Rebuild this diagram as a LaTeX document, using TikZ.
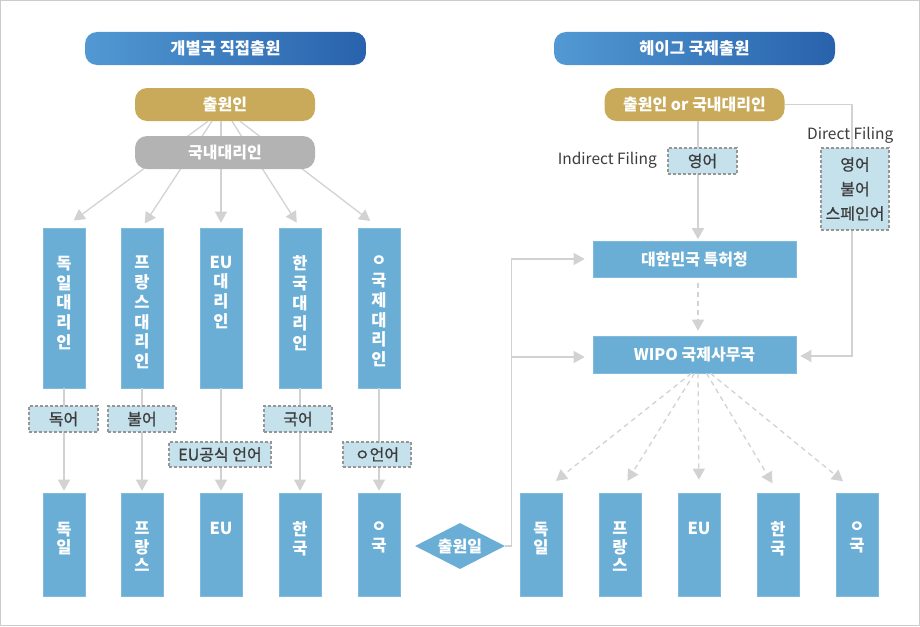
\documentclass[tikz,border=0pt]{standalone}
\usepackage{fontspec}
\setmainfont{Noto Sans CJK KR}
\newfontfamily\krmedium[FakeBold=0.8]{Noto Sans CJK KR}
\usetikzlibrary{arrows.meta,calc,shapes.geometric}
\definecolor{tl}{RGB}{82,153,211}
\definecolor{tr}{RGB}{40,98,172}
\definecolor{gold}{RGB}{200,170,90}
\definecolor{graybox}{RGB}{179,179,179}
\definecolor{boxblue}{RGB}{106,174,214}
\definecolor{lblfill}{RGB}{197,225,236}
\definecolor{lbldraw}{RGB}{150,150,150}
\definecolor{cline}{RGB}{210,210,210}
\definecolor{darktext}{RGB}{60,60,60}
\definecolor{frame}{RGB}{204,204,204}
\begin{document}
\begin{tikzpicture}[x=1pt,y=-1pt,
  wb/.style={text=white,font=\bfseries\fontsize{16}{20}\selectfont},
  title/.style={wb,rounded corners=12pt,left color=tl,right color=tr,minimum width=281pt,minimum height=33pt,inner sep=0pt,font=\bfseries\fontsize{16.5}{20}\selectfont},
  pill/.style={wb,rounded corners=12pt,minimum width=180pt,minimum height=33pt,inner sep=0pt},
  agent/.style={fill=boxblue,draw=boxblue!85!white,line width=0.6pt,minimum width=42pt,minimum height=160pt,inner sep=0pt},
  ctry/.style={agent,minimum height=103pt},
  office/.style={wb,fill=boxblue,draw=boxblue!85!white,line width=0.6pt,minimum width=203pt,minimum height=36pt,inner sep=0pt},
  vt/.style={wb,align=center,inner sep=0pt,anchor=north,font=\bfseries\fontsize{16.5}{19.8}\selectfont},
  vtc/.style={vt,font=\bfseries\fontsize{16.5}{18.5}\selectfont},
  lbl/.style={fill=lblfill,draw=lbldraw,line width=1.1pt,dash pattern=on 3pt off 2pt,minimum height=26pt,minimum width=68pt,inner sep=0pt,text=darktext,font=\krmedium\fontsize{16}{24.5}\selectfont,align=center},
  arr/.style={draw=cline,line width=1.3pt,-{Triangle[width=12pt,length=11pt]}},
  darr/.style={arr,dash pattern=on 5pt off 4pt},
  plain/.style={draw=cline,line width=1.3pt},
  note/.style={text=darktext,font=\fontsize{15.5}{18}\selectfont,inner sep=0pt}
]
\useasboundingbox (0,0) rectangle (920,626);
\draw[frame,line width=1pt] (0.5,0.5) rectangle (919.5,625.5);

% ---------- left ----------
\node[title] (t1) at (225.5,48.5) {개별국 직접출원};
\node[pill,fill=gold] (p1) at (225,104.5) {출원인};

\foreach \i/\x in {1/64,2/142,3/221,4/300,5/379}{
  \node[agent] (a\i) at (\x,308) {};
  \node[ctry] (c\i) at (\x,544.5) {};
}
\node[vt] (a1t) at ([yshift=-28pt]a1.north) {독\\일\\대\\리\\인};
\node[vt] (a2t) at ([yshift=-28pt]a2.north) {프\\랑\\스\\대\\리\\인};
\node[vt] (a3t) at ([yshift=-28pt]a3.north) {EU\\대\\리\\인};
\node[vt] (a4t) at ([yshift=-28pt]a4.north) {한\\국\\대\\리\\인};
\node[vt] (a5t) at ([yshift=-28pt]a5.north) {ㅇ\\국\\제\\대\\리\\인};
\node[vtc] (c1t) at ([yshift=-29pt]c1.north) {독\\일};
\node[vtc] (c2t) at ([yshift=-29pt]c2.north) {프\\랑\\스};
\node[vtc] (c3t) at ([yshift=-29pt]c3.north) {EU};
\node[vtc] (c4t) at ([yshift=-29pt]c4.north) {한\\국};
\node[vtc] (c5t) at ([yshift=-29pt]c5.north) {ㅇ\\국};

\draw[arr,shorten >=12pt] ([xshift=-17pt]p1.south) -- (a1.north);
\draw[arr,shorten >=5pt] ([xshift=-13pt]p1.south) -- (a2.north);
\draw[arr,shorten >=5pt] ([xshift=-4pt]p1.south) -- (a3.north);
\draw[arr,shorten >=6pt] ([xshift=7pt]p1.south) -- (a4.north);
\draw[arr,shorten >=11pt] ([xshift=15pt]p1.south) -- (a5.north);
\node[pill,fill=graybox] (p2) at (225,152.5) {국내대리인};

\foreach \i in {1,...,5}{
  \draw[arr,shorten >=2pt] (a\i.south) -- (c\i.north);
}
\node[lbl,minimum width=69pt] (l1) at (63.5,419) {독어};
\node[lbl] (l2) at (142,419) {불어};
\node[lbl] (l4) at (298,419) {국어};
\node[lbl,minimum width=102pt,minimum height=25pt] (l3) at (220,454.5) {EU공식 언어};
\node[lbl,minimum height=25pt] (l5) at (377,454.5) {ㅇ언어};

\node[diamond,aspect=2,fill=boxblue,minimum width=90pt,minimum height=46pt,inner sep=0pt,wb] (dm) at (460,546) {출원일};

% ---------- right ----------
\node[title] (t2) at (694.5,48.5) {헤이그 국제출원};
\node[pill,fill=gold] (q1) at (694.5,104.5) {출원인 or 국내대리인};
\node[office] (k) at (694.5,259) {대한민국 특허청};
\node[office,minimum height=37pt] (w) at (694.5,354.5) {WIPO 국제사무국};
\foreach \i/\x in {1/541,2/620,3/699,4/778,5/857}{
  \node[ctry] (r\i) at (\x,544.5) {};
}
\node[vtc] (r1t) at ([yshift=-29pt]r1.north) {독\\일};
\node[vtc] (r2t) at ([yshift=-29pt]r2.north) {프\\랑\\스};
\node[vtc] (r3t) at ([yshift=-29pt]r3.north) {EU};
\node[vtc] (r4t) at ([yshift=-29pt]r4.north) {한\\국};
\node[vtc] (r5t) at ([yshift=-29pt]r5.north) {ㅇ\\국};

\draw[arr,shorten >=1.5pt] ([xshift=3.5pt]q1.south) -- ([xshift=3.5pt]k.north);
\draw[darr,shorten <=6pt,shorten >=5pt] ([xshift=3.5pt]k.south) -- ([xshift=3.5pt]w.north);
\node[note,anchor=east] (ind) at (657,160) {Indirect Filing};
\node[lbl,minimum width=69pt] (e1) at (702.5,161) {영어};

\node[lbl,minimum height=82pt] (e2) at (855,189) {영어\\불어\\스페인어};
\draw[plain] (q1.east) -| ([xshift=-3pt]e2.north);
\draw[arr,shorten >=4pt] ([xshift=-3pt]e2.south) |- ([yshift=-1.5pt]w.east);
\node[note,anchor=west] (dir) at (807,135) {Direct Filing};

\draw[arr,shorten >=8pt] (dm.east) -- ++(6,0) |- (k.west);
\draw[arr,shorten >=8pt] (dm.east) -- ++(6,0) |- ([yshift=-2.5pt]w.west);

\draw[darr,shorten >=19pt] ([xshift=-3pt]w.south) -- (r1.north);
\draw[darr,shorten >=14pt] ([xshift=0pt]w.south) -- (r2.north);
\draw[darr,shorten >=13pt] ([xshift=3.5pt]w.south) -- (r3.north);
\draw[darr,shorten >=11pt] ([xshift=12pt]w.south) -- (r4.north);
\draw[darr,shorten >=18pt] ([xshift=16pt]w.south) -- (r5.north);
\end{tikzpicture}
\end{document}
